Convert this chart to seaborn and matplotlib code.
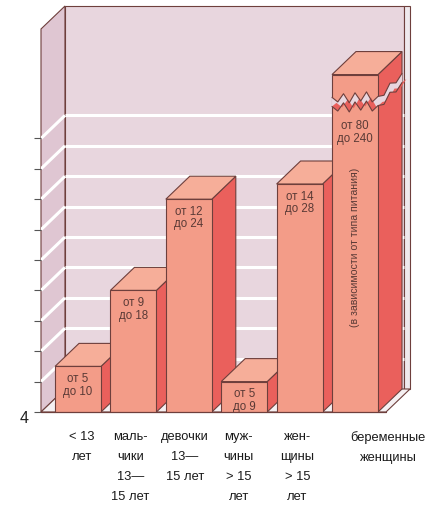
import matplotlib
matplotlib.use("Agg")
import matplotlib.pyplot as plt
import matplotlib.transforms as mtransforms
from matplotlib.patches import Polygon
import numpy as np
import pandas as pd
import seaborn as sns

# ---- data -------------------------------------------------------------
groups = [
    "< 13\nлет",
    "маль-\nчики\n13—\n15 лет",
    "девочки\n13—\n15 лет",
    "муж-\nчины\n> 15\nлет",
    "жен-\nщины\n> 15\nлет",
    "беременные\nженщины",
]
bar_value = [5.5, 8.0, 11.0, 5.0, 11.5, 15.1]   # bar heights on the axis scale
range_low = [5, 9, 12, 5, 14, 80]
range_high = [10, 18, 24, 9, 28, 240]
note = "(в зависимости от типа питания)"
axis_floor = 4
axis_ticks = list(range(4, 14))
tick_labels = ["4"] + [""] * 9
break_at = 14.05          # where the last bar is drawn broken

# ---- style ------------------------------------------------------------
front_c = "#f39c88"
top_c = "#f6ae99"
side_c = "#ea605c"
edge_c = "#6e3f3c"
wall_back = "#e8d6de"
wall_side = "#dfc6d2"
floor_c = "#f5f0f2"
strip_c = "#efe9ed"
text_c = "#5a3a36"
narrow = ["Liberation Sans Narrow", "Liberation Sans", "DejaVu Sans"]
plain = ["Liberation Sans", "DejaVu Sans"]

sns.set_theme(style="white")
plt.rcParams["font.family"] = plain

W, H = 428, 515
fig = plt.figure(figsize=(W / 100, H / 100), dpi=100)
left_px, floor_px = 41, 412
ax = fig.add_axes([left_px / W, (H - floor_px) / H, (W - left_px) / W, floor_px / H])
ax.patch.set_alpha(0)

x_unit, x0_px, y_unit = 55.4, 78, 30.4
xl = (left_px - x0_px) / x_unit
xr = (W - x0_px) / x_unit
ax.set_xlim(xl, xr)
ax.set_ylim(axis_floor, axis_floor + floor_px / y_unit)

DX = 24 / x_unit      # receding depth, horizontal
DY = 23 / y_unit      # receding depth, vertical

# ---- bars (front faces) ----------------------------------------------
df = pd.DataFrame({"group": groups, "value": bar_value})
sns.barplot(data=df, x="group", y="value", color=front_c, saturation=1,
            width=0.83, edgecolor=edge_c, linewidth=0.8, ax=ax)
bars = list(ax.patches)
ax.set_xlim(xl, xr)
ax.set_ylim(axis_floor, axis_floor + floor_px / y_unit)

# ---- room: side wall, back wall, floor, grid -------------------------
wall_top = axis_floor + (floor_px - 29) / y_unit
back_right = (404 - x0_px) / x_unit
edge_right = (410 - x0_px) / x_unit
f0 = axis_floor
kw = dict(edgecolor=edge_c, linewidth=0.8, clip_on=False)
ax.add_patch(Polygon([(xl, f0), (xl, wall_top), (xl + DX, wall_top + DY), (xl + DX, f0 + DY)],
                     facecolor=wall_side, zorder=0.1, **kw))
ax.add_patch(Polygon([(xl + DX, f0 + DY), (xl + DX, wall_top + DY),
                      (back_right, wall_top + DY), (back_right, f0 + DY)],
                     facecolor=wall_back, zorder=0.1, **kw))
ax.add_patch(Polygon([(back_right, f0 + DY), (back_right, wall_top + DY),
                      (edge_right, wall_top + DY), (edge_right, f0 + DY)],
                     facecolor=strip_c, zorder=0.1, **kw))
ax.add_patch(Polygon([(xl, f0), (edge_right - DX, f0), (edge_right, f0 + DY), (xl + DX, f0 + DY)],
                     facecolor=floor_c, zorder=0.15, **kw))
for k in range(1, 10):
    ax.plot([xl + DX, back_right], [f0 + k + DY] * 2, color="white", lw=2.2,
            zorder=0.3, solid_capstyle="butt")
    ax.plot([xl, xl + DX], [f0 + k, f0 + k + DY], color="white", lw=2.2,
            zorder=0.3, solid_capstyle="butt")

# ---- side and top faces of every bar ---------------------------------
for i, p in enumerate(bars):
    bx, bw, top = p.get_x(), p.get_width(), p.get_height()
    z = 2 + 3 * i
    ax.add_patch(Polygon([(bx + bw, f0), (bx + bw, top), (bx + bw + DX, top + DY), (bx + bw + DX, f0 + DY)],
                         facecolor=side_c, edgecolor=edge_c, linewidth=0.8, zorder=z))
    ax.add_patch(Polygon([(bx, top), (bx + bw, top), (bx + bw + DX, top + DY), (bx + DX, top + DY)],
                         facecolor=top_c, edgecolor=edge_c, linewidth=0.8, zorder=z + 1))
    p.set_zorder(z + 2)

    shown_top = min(top, break_at)
    pad = 0.22 if top < break_at else 0.45
    ax.text(bx + bw / 2, shown_top - pad, f"от {range_low[i]}\nдо {range_high[i]}",
            ha="center", va="top", fontsize=8.3, family=narrow, color=text_c,
            linespacing=1.05, zorder=50)

# ---- break in the tallest bar ----------------------------------------
p = bars[-1]
bx, bw = p.get_x(), p.get_width()
zig_t = np.linspace(0, 1, 9)
zig_o = 0.6 * np.array([0.0, -0.25, 0.2, -0.3, 0.25, -0.2, 0.3, -0.25, 0.05])
gap = 0.3
fx = bx + zig_t * bw
sx = bx + bw + zig_t[:5] / zig_t[4] * DX
sy_shift = zig_t[:5] / zig_t[4] * DY
so = 0.6 * np.array([0.05, -0.2, 0.15, -0.15, 0.05])
upper = list(zip(fx, break_at + gap + zig_o)) + list(zip(sx, break_at + gap + so + sy_shift))
lower = list(zip(fx, break_at + zig_o)) + list(zip(sx, break_at + so + sy_shift))
ax.add_patch(Polygon(upper + lower[::-1], facecolor=wall_back, edgecolor="none", zorder=40))
body_top = [(x + 0.08, y + 0.12) for x, y in lower]
ax.add_patch(Polygon(lower + body_top[::-1], facecolor=side_c, edgecolor="none", zorder=40.5))
ux, uy = zip(*upper)
lx, ly = zip(*lower)
ax.plot(ux, uy, color=edge_c, lw=0.8, zorder=41)
ax.plot(lx, ly, color=edge_c, lw=0.8, zorder=41)

ax.text(bx + bw / 2, 9.4, note, rotation=90, ha="center", va="center",
        fontsize=7.6, family=narrow, color=text_c, zorder=50)

# ---- floor edge, axis ticks ------------------------------------------
ax.plot([xl, edge_right - DX], [f0, f0], color=edge_c, lw=0.9, zorder=60, clip_on=False)
for s in ax.spines.values():
    s.set_visible(False)
ax.set_xticks([])
ax.set_xlabel("")
ax.set_ylabel("")
ax.set_yticks(axis_ticks)
ax.set_yticklabels(tick_labels)
ax.tick_params(axis="y", left=True, direction="out", length=5, width=0.8,
               color="#555555", pad=4, labelsize=11.5, labelcolor="#222222")
shift = mtransforms.ScaledTranslation(0, -5 / 100, fig.dpi_scale_trans)
for lab in ax.get_yticklabels():
    lab.set_transform(lab.get_transform() + shift)

# ---- category labels under the floor ---------------------------------
label_dx = [0.07, -0.05, -0.07, -0.10, -0.04, 0.6]
lab_tr = mtransforms.blended_transform_factory(ax.transData, fig.transFigure)
for i, g in enumerate(groups):
    ax.text(i + label_dx[i], (H - 431) / H, g, transform=lab_tr, ha="center", va="top",
            multialignment="center", fontsize=9.3, family=plain, color="#1a1a1a",
            linespacing=1.9, clip_on=False)

fig.savefig("out.png", dpi=100, facecolor="white")
